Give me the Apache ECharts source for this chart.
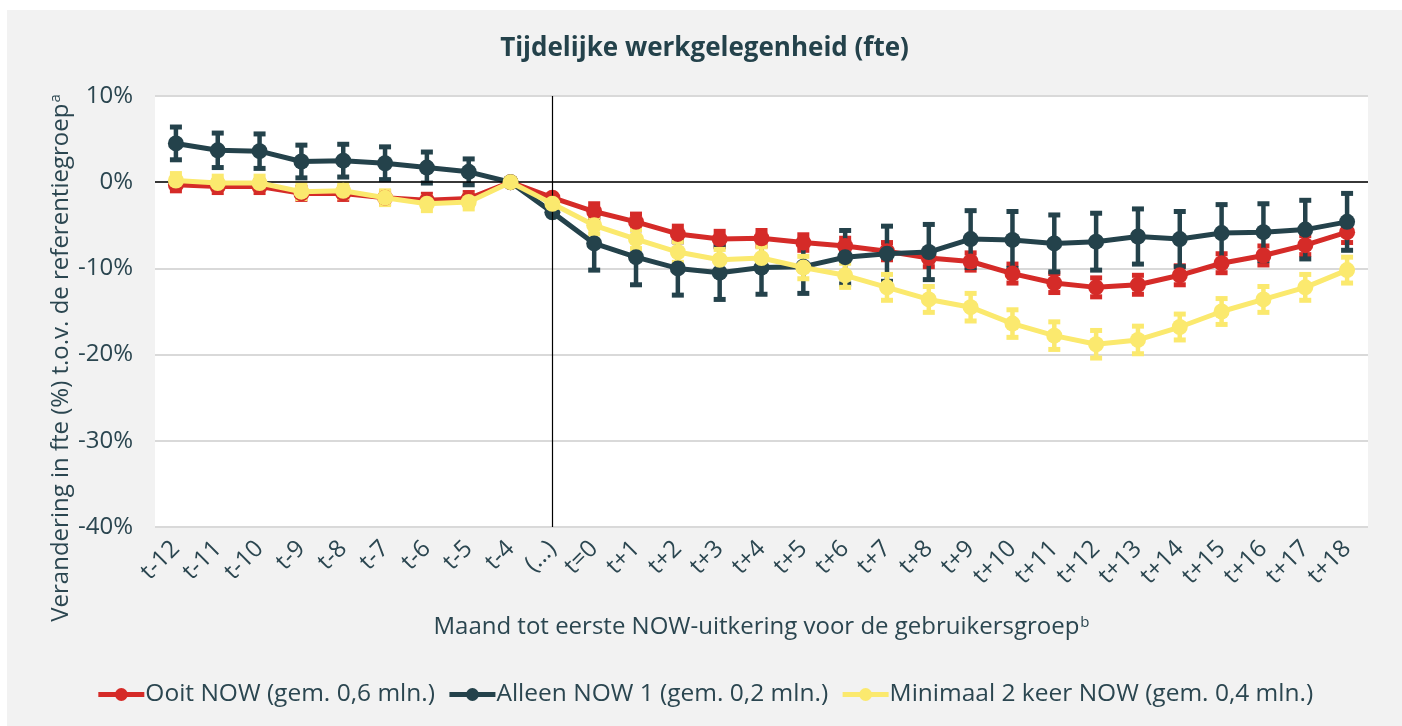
<!DOCTYPE html>
<html>
<head>
<meta charset="utf-8">
<script src="https://cdn.jsdelivr.net/npm/echarts@6/dist/echarts.min.js"></script>
<style>
  html, body { margin: 0; padding: 0; background: #fff; }
  #chart {
    position: absolute;
    left: 7px;
    top: 10px;
    width: 1395px;
    height: 716px;
    background: #f2f2f2;
  }
</style>
</head>
<body>
<div id="chart"></div>
<script>
// maanden t.o.v. eerste NOW-uitkering
const categories = ['t-12', 't-11', 't-10', 't-9', 't-8', 't-7', 't-6', 't-5', 't-4', '(…)',
  't=0', 't+1', 't+2', 't+3', 't+4', 't+5', 't+6', 't+7', 't+8', 't+9',
  't+10', 't+11', 't+12', 't+13', 't+14', 't+15', 't+16', 't+17', 't+18']
const yTicks = [-40, -30, -20, -10, 0, 10]

// Ooit NOW
const ooitNow = [-0.3, -0.5, -0.5, -1.3, -1.3, -1.8, -2.1, -1.9, 0, -1.8,
  -3.4, -4.6, -6.0, -6.6, -6.5, -7.0, -7.4, -8.0, -8.8, -9.2,
  -10.6, -11.7, -12.2, -11.9, -10.8, -9.4, -8.5, -7.3, -5.8]
const ooitNowErr = [0.7, 0.7, 0.7, 0.7, 0.7, 0.7, 0.7, 0.7, 0, 0,
  0.9, 0.9, 0.9, 0.9, 0.9, 0.9, 0.9, 1.0, 1.0, 1.0,
  1.1, 1.1, 1.1, 1.1, 1.1, 1.1, 1.1, 1.1, 1.2]

// Alleen NOW 1
const alleenNow1 = [4.5, 3.7, 3.6, 2.4, 2.5, 2.2, 1.7, 1.2, 0, -3.5,
  -7.1, -8.7, -10.0, -10.5, -9.9, -9.8, -8.7, -8.3, -8.1, -6.6,
  -6.7, -7.1, -6.9, -6.3, -6.6, -5.9, -5.8, -5.5, -4.6]
const alleenNow1Err = [1.9, 2.0, 2.0, 1.9, 1.9, 1.9, 1.8, 1.5, 0, 0,
  3.1, 3.2, 3.1, 3.1, 3.1, 3.1, 3.1, 3.2, 3.2, 3.3,
  3.3, 3.3, 3.3, 3.2, 3.2, 3.3, 3.3, 3.4, 3.3]

// Minimaal 2 keer NOW
const min2Now = [0.2, -0.1, -0.1, -1.1, -1.0, -1.8, -2.5, -2.3, 0, -2.5,
  -5.0, -6.6, -8.1, -9.0, -8.8, -9.9, -10.8, -12.2, -13.6, -14.5,
  -16.4, -17.8, -18.8, -18.3, -16.8, -15.0, -13.6, -12.2, -10.2]
const min2NowErr = [0.8, 0.8, 0.8, 0.8, 0.8, 0.8, 0.8, 0.8, 0, 0,
  1.0, 1.1, 1.2, 1.2, 1.3, 1.3, 1.4, 1.5, 1.5, 1.6,
  1.6, 1.6, 1.6, 1.6, 1.5, 1.5, 1.5, 1.5, 1.5]

const names = ['Ooit NOW (gem. 0,6 mln.)', 'Alleen NOW 1 (gem. 0,2 mln.)', 'Minimaal 2 keer NOW (gem. 0,4 mln.)']
const colors = ['#d52b28', '#24424b', '#fbe96e']
const textColor = '#2b4650'
const font = '"Open Sans", "Noto Sans", sans-serif'

let mycharts = echarts.init(document.getElementById('chart'))

// foutmarges als [index, onder, boven]
function errData(vals, errs) {
  let out = []
  vals.forEach((v, i) => {
    if (errs[i] > 0) out.push([i, v - errs[i], v + errs[i]])
  })
  return out
}

function errSeries(vals, errs, color, z) {
  return {
    type: 'custom',
    name: 'err' + z,
    z: 2,
    silent: true,
    data: errData(vals, errs),
    encode: { x: 0, y: [1, 2] },
    renderItem: function (params, api) {
      let lo = api.coord([api.value(0), api.value(1)])
      let hi = api.coord([api.value(0), api.value(2)])
      let cap = 6
      let st = { stroke: color, lineWidth: 4.5 }
      return {
        type: 'group',
        children: [
          { type: 'line', shape: { x1: lo[0], y1: lo[1], x2: hi[0], y2: hi[1] }, style: st },
          { type: 'line', shape: { x1: lo[0] - cap, y1: lo[1], x2: lo[0] + cap, y2: lo[1] }, style: { stroke: color, lineWidth: 5 } },
          { type: 'line', shape: { x1: hi[0] - cap, y1: hi[1], x2: hi[0] + cap, y2: hi[1] }, style: { stroke: color, lineWidth: 5 } }
        ]
      }
    }
  }
}

function lineSeries(name, vals, color, z) {
  return {
    type: 'line',
    name: name,
    z: z,
    data: vals,
    symbol: 'circle',
    symbolSize: 16,
    lineStyle: { color: color, width: 5 },
    itemStyle: { color: color },
    emphasis: { disabled: true }
  }
}

mycharts.setOption({
  animation: false,
  textStyle: { fontFamily: font },
  title: {
    text: 'Tijdelijke werkgelegenheid (fte)',
    left: 'center',
    top: 21,
    textStyle: { color: '#24424b', fontSize: 26, fontWeight: 'bold', fontFamily: font }
  },
  legend: {
    data: names,
    left: 'center',
    top: 667,
    itemWidth: 46,
    itemHeight: 16,
    itemGap: 12,
    lineStyle: { width: 5 },
    textStyle: { color: textColor, fontSize: 24.5, fontFamily: font, padding: [0, 0, 0, -4] }
  },
  grid: {
    left: 148,
    right: 34,
    top: 86,
    bottom: 199,
    show: true,
    backgroundColor: '#fff',
    borderWidth: 0
  },
  xAxis: {
    type: 'category',
    data: categories,
    boundaryGap: true,
    axisLine: { show: false },
    axisTick: { show: false },
    axisLabel: {
      rotate: 45,
      interval: 0,
      margin: 18,
      color: textColor,
      fontSize: 24,
      fontFamily: font
    },
    name: '{t|Maand tot eerste NOW-uitkering voor de gebruikersgroep}{s|b}',
    nameLocation: 'middle',
    nameGap: 88,
    nameTextStyle: {
      rich: {
        t: { color: textColor, fontSize: 24, fontFamily: font },
        s: { color: textColor, fontSize: 15, fontFamily: font, verticalAlign: 'top', padding: [0, 0, 10, 1] }
      }
    }
  },
  yAxis: {
    type: 'value',
    min: yTicks[0],
    max: yTicks[yTicks.length - 1],
    interval: 10,
    axisLine: { show: false },
    axisTick: { show: false },
    axisLabel: {
      formatter: '{value}%',
      color: textColor,
      fontSize: 24,
      margin: 22,
      fontFamily: font
    },
    splitLine: { lineStyle: { color: '#d9d9d9', width: 2 } }
  },
  graphic: [
    {
      type: 'text',
      x: 54,
      y: 348,
      rotation: Math.PI / 2,
      style: {
        text: '{t|Verandering in fte (%) t.o.v. de referentiegroep}{s|a}',
        align: 'center',
        verticalAlign: 'middle',
        rich: {
          t: { fill: textColor, fontSize: 24, fontFamily: font },
          s: { fill: textColor, fontSize: 15, fontFamily: font, verticalAlign: 'top', padding: [0, 0, 10, 1] }
        }
      }
    }
  ],
  series: [
    // nullijn en scheidslijn
    {
      type: 'line',
      name: 'ref',
      data: [],
      z: 1,
      silent: true,
      markLine: {
        symbol: 'none',
        silent: true,
        label: { show: false },
        animation: false,
        data: [
          { yAxis: 0, lineStyle: { color: '#000', width: 1.5, type: 'solid' } },
          { xAxis: '(…)', lineStyle: { color: '#000', width: 1.2, type: 'solid' } }
        ]
      }
    },
    errSeries(ooitNow, ooitNowErr, colors[0], 0),
    errSeries(alleenNow1, alleenNow1Err, colors[1], 1),
    errSeries(min2Now, min2NowErr, colors[2], 2),
    lineSeries(names[0], ooitNow, colors[0], 3),
    lineSeries(names[1], alleenNow1, colors[1], 4),
    lineSeries(names[2], min2Now, colors[2], 5)
  ]
})
</script>
</body>
</html>
